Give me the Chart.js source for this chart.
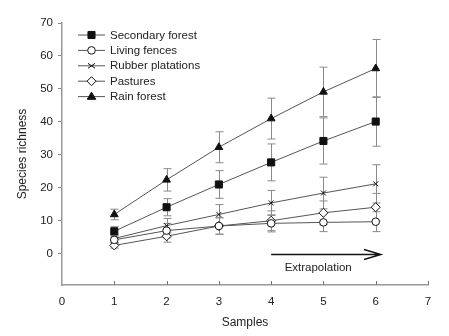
<!DOCTYPE html>
<html>
<head>
<meta charset="utf-8">
<script src="https://cdn.jsdelivr.net/npm/chart.js@4.4.0/dist/chart.umd.min.js"></script>
<style>
  html, body { margin: 0; padding: 0; background: #fff; }
  #wrap { width: 449px; height: 336px; }
</style>
</head>
<body>
<div id="wrap"><canvas id="richnessChart" width="449" height="336"></canvas></div>
<script>
const samples = [1, 2, 3, 4, 5, 6];
const seriesNames = ['Secondary forest', 'Living fences', 'Rubber platations', 'Pastures', 'Rain forest'];

const secondaryForest = [6.8, 14.1, 21, 27.7, 34.2, 40.1];
const secondaryErr = [1.4, 2.6, 4.2, 5.6, 7, 7.5];
const livingFences = [4.2, 7, 8.4, 9.2, 9.5, 9.7];
const livingErr = [1.2, 2.2, 2.5, 2.6, 2.8, 3];
const rubber = [4.6, 8.5, 11.9, 15.4, 18.4, 21.2];
const rubberErr = [1.2, 2.2, 3, 3.8, 4.8, 5.8];
const pastures = [2.5, 5.3, 8.4, 10, 12.4, 14.1];
const pasturesErr = [0.8, 1.8, 2.5, 3, 3.6, 4.2];
const rainForest = [11.9, 22.4, 32.3, 41, 49.1, 56.2];
const rainErr = [1.6, 3.4, 4.7, 6.2, 7.5, 8.8];

const xTicks = [0, 1, 2, 3, 4, 5, 6, 7];
const yTicks = [0, 10, 20, 30, 40, 50, 60, 70];

// extrapolation arrow (data units)
const arrowFrom = 4;
const arrowTo = 6.1;
const arrowY = 0;
const arrowLabel = 'Extrapolation';

const FONT = '"Liberation Sans", Arial, sans-serif';
const TEXT = '#222';
const LINE = '#555';

const markers = [
  { style: 'rect', radius: 5, fill: '#111' },
  { style: 'circle', radius: 3.8, fill: '#fff' },
  { style: 'crossRot', radius: 3.5, fill: '#fff' },
  { style: 'rectRot', radius: 4.5, fill: '#fff' },
  { style: 'triangle', radius: 4.5, fill: '#111' },
];

const values = [secondaryForest, livingFences, rubber, pastures, rainForest];
const errors = [secondaryErr, livingErr, rubberErr, pasturesErr, rainErr];

function toPoints(arr) {
  return samples.map((s, i) => ({ x: s, y: arr[i] }));
}

// vertical error bars with caps
const errorBars = {
  id: 'errorBars',
  beforeDatasetsDraw(chart) {
    const { ctx, scales: { x, y } } = chart;
    ctx.save();
    ctx.strokeStyle = '#8a8a8a';
    ctx.lineWidth = 1;
    errors.forEach((errArr, d) => {
      values[d].forEach((v, i) => {
        const px = Math.round(x.getPixelForValue(samples[i])) + 0.5;
        const top = y.getPixelForValue(v + errArr[i]);
        const bot = y.getPixelForValue(v - errArr[i]);
        ctx.beginPath();
        ctx.moveTo(px, top);
        ctx.lineTo(px, bot);
        ctx.moveTo(px - 4, top);
        ctx.lineTo(px + 4, top);
        ctx.moveTo(px - 4, bot);
        ctx.lineTo(px + 4, bot);
        ctx.stroke();
      });
    });
    ctx.restore();
  },
};

function drawMarker(ctx, m, cx, cy) {
  ctx.save();
  ctx.fillStyle = m.fill;
  ctx.strokeStyle = '#111';
  ctx.lineWidth = 1;
  const r = m.radius;
  ctx.beginPath();
  if (m.style === 'rect') {
    const s = r * Math.SQRT1_2;
    ctx.rect(cx - s, cy - s, 2 * s, 2 * s);
  } else if (m.style === 'circle') {
    ctx.arc(cx, cy, r, 0, Math.PI * 2);
  } else if (m.style === 'rectRot') {
    ctx.moveTo(cx, cy - r);
    ctx.lineTo(cx + r, cy);
    ctx.lineTo(cx, cy + r);
    ctx.lineTo(cx - r, cy);
    ctx.closePath();
  } else if (m.style === 'triangle') {
    ctx.moveTo(cx, cy - r);
    ctx.lineTo(cx + r * 0.95, cy + r * 0.6);
    ctx.lineTo(cx - r * 0.95, cy + r * 0.6);
    ctx.closePath();
  } else if (m.style === 'crossRot') {
    ctx.moveTo(cx - r, cy - r * 0.7);
    ctx.lineTo(cx + r, cy + r * 0.7);
    ctx.moveTo(cx + r, cy - r * 0.7);
    ctx.lineTo(cx - r, cy + r * 0.7);
    ctx.stroke();
    ctx.restore();
    return;
  }
  ctx.fill();
  ctx.stroke();
  ctx.restore();
}

// legend inside the plot, extras (x ticks pointing in, arrow)
const decorations = {
  id: 'decorations',
  afterDraw(chart) {
    const { ctx, scales: { x, y } } = chart;
    ctx.save();

    // legend
    ctx.font = '11.5px ' + FONT;
    ctx.textBaseline = 'middle';
    seriesNames.forEach((name, i) => {
      const ly = 35 + i * 15.4;
      ctx.strokeStyle = LINE;
      ctx.lineWidth = 1;
      ctx.beginPath();
      ctx.moveTo(78, ly);
      ctx.lineTo(105, ly);
      ctx.stroke();
      drawMarker(ctx, markers[i], 91.5, ly);
      ctx.fillStyle = TEXT;
      ctx.fillText(name, 110, ly + 0.5);
    });

    // x ticks pointing up
    ctx.strokeStyle = '#777';
    ctx.lineWidth = 1;
    xTicks.forEach(t => {
      if (t === 0) return;
      const px = Math.round(x.getPixelForValue(t)) + 0.5;
      ctx.beginPath();
      ctx.moveTo(px, y.bottom);
      ctx.lineTo(px, y.bottom - 4);
      ctx.stroke();
    });

    // extrapolation arrow
    const ax0 = x.getPixelForValue(arrowFrom);
    const ax1 = x.getPixelForValue(arrowTo);
    const ay = Math.round(y.getPixelForValue(arrowY)) + 0.5;
    ctx.strokeStyle = '#111';
    ctx.lineWidth = 1.4;
    ctx.beginPath();
    ctx.moveTo(ax0, ay);
    ctx.lineTo(ax1, ay);
    ctx.moveTo(ax1 - 17, ay - 5);
    ctx.lineTo(ax1, ay);
    ctx.lineTo(ax1 - 17, ay + 5);
    ctx.stroke();
    ctx.fillStyle = TEXT;
    ctx.font = '11.5px ' + FONT;
    ctx.textAlign = 'center';
    ctx.fillText(arrowLabel, x.getPixelForValue((arrowFrom + arrowTo) / 2 - 0.15), ay + 13);

    ctx.restore();
  },
};

const datasets = seriesNames.map((name, i) => ({
  label: name,
  data: toPoints(values[i]),
  borderColor: LINE,
  borderWidth: 1,
  pointStyle: markers[i].style,
  pointRadius: markers[i].radius,
  pointBackgroundColor: markers[i].fill,
  pointBorderColor: '#111',
  pointBorderWidth: 1,
  tension: 0,
}));

new Chart(document.getElementById('richnessChart').getContext('2d'), {
  type: 'line',
  data: { datasets },
  options: {
    responsive: false,
    animation: false,
    layout: { padding: { left: 0, right: 21, top: 23, bottom: 0 } },
    plugins: {
      legend: { display: false },
      tooltip: { enabled: false },
    },
    scales: {
      x: {
        type: 'linear',
        min: 0,
        max: 7,
        afterBuildTicks: scale => { scale.ticks = xTicks.map(v => ({ value: v })); },
        afterFit: scale => { scale.height = 51; },
        grid: { display: false, drawTicks: false },
        border: { color: '#999', width: 1.5 },
        ticks: { color: TEXT, font: { family: FONT, size: 11.5 }, padding: 10 },
        title: {
          display: true,
          text: 'Samples',
          color: TEXT,
          font: { family: FONT, size: 12 },
          padding: { top: 4, bottom: 6 },
        },
      },
      y: {
        min: -9.5,
        max: 70,
        afterBuildTicks: scale => { scale.ticks = yTicks.map(v => ({ value: v })); },
        afterFit: scale => { scale.width = 62; },
        grid: { drawOnChartArea: false, tickLength: 4, color: '#888' },
        border: { color: '#999', width: 1.5 },
        ticks: { color: TEXT, font: { family: FONT, size: 11.5 }, padding: 5 },
        title: {
          display: true,
          text: 'Species richness',
          color: TEXT,
          font: { family: FONT, size: 12 },
          padding: { top: 15, bottom: 6 },
        },
      },
    },
  },
  plugins: [errorBars, decorations],
});
</script>
</body>
</html>
